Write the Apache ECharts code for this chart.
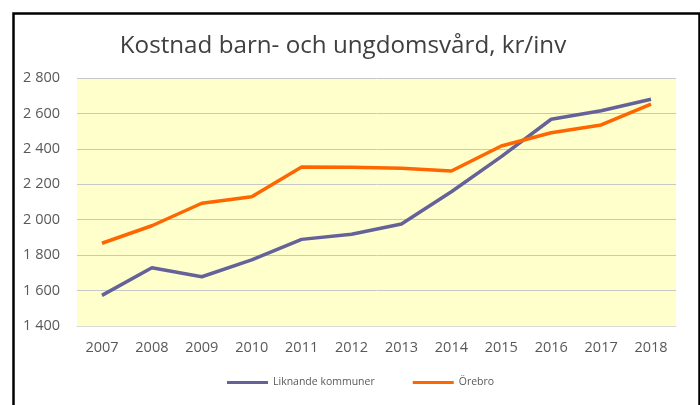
<!DOCTYPE html>
<html>
<head>
<meta charset="utf-8">
<script src="https://cdn.jsdelivr.net/npm/echarts@6/dist/echarts.min.js"></script>
<style>
html,body{margin:0;padding:0;background:#fff;}
#c{width:700px;height:405px;}
</style>
</head>
<body>
<div id="c"></div>
<script>
const categories = ['2007','2008','2009','2010','2011','2012','2013','2014','2015','2016','2017','2018'];
const liknande = [1573, 1729, 1678, 1773, 1889, 1918, 1976, 2158, 2356, 2567, 2615, 2680];
const orebro = [1867, 1966, 2093, 2130, 2298, 2296, 2290, 2275, 2416, 2491, 2535, 2653];
const seriesNames = ['Liknande kommuner', 'Örebro'];
const titleText = 'Kostnad barn- och ungdomsvård, kr/inv';

const chart = echarts.init(document.getElementById('c'), null, {renderer:'canvas'});
chart.setOption({
  animation: false,
  backgroundColor: '#fff',
  title: {
    text: titleText,
    left: 338, textAlign: 'center', top: 29,
    textStyle: {fontFamily: 'Open Sans', fontSize: 24.2, fontWeight: 'normal', color: '#404040'}
  },
  graphic: [{
    type: 'rect', left: 11, top: 11,
    shape: {width: 686, height: 420},
    style: {fill: 'none', stroke: '#000', lineWidth: 2.5},
    silent: true
  }],
  legend: {
    left: 227, top: 377, padding: 0,
    icon: 'rect', itemWidth: 41, itemHeight: 3, itemGap: 38,
    textStyle: {fontFamily: 'Open Sans', fontSize: 10.5, color: '#595959'},
    data: seriesNames
  },
  grid: {
    left: 77, right: 24, top: 78, bottom: 79,
    show: true, backgroundColor: '#FFFFCC', borderWidth: 0,
    containLabel: false
  },
  xAxis: {
    type: 'category', data: categories, boundaryGap: true,
    axisLine: {show: true, lineStyle: {color: '#D9D9D9', width: 1}},
    axisTick: {show: false},
    axisLabel: {fontFamily: 'Open Sans', fontSize: 14.5, color: '#595959', margin: 14}
  },
  yAxis: {
    type: 'value', min: 1400, max: 2800, interval: 200,
    axisLine: {show: false}, axisTick: {show: false},
    splitLine: {lineStyle: {color: '#C8C8C8', width: 1}},
    axisLabel: {
      fontFamily: 'Open Sans', fontSize: 14.5, color: '#595959', margin: 17,
      formatter: v => String(v).replace(/\B(?=(\d{3})+(?!\d))/g, ' ')
    }
  },
  series: [
    {name: seriesNames[0], type: 'line', data: liknande, symbol: 'none',
     lineStyle: {color: '#65629A', width: 3.5}, itemStyle: {color: '#65629A'}},
    {name: seriesNames[1], type: 'line', data: orebro, symbol: 'none',
     lineStyle: {color: '#FF6600', width: 3.5}, itemStyle: {color: '#FF6600'}}
  ]
});
</script>
</body>
</html>
